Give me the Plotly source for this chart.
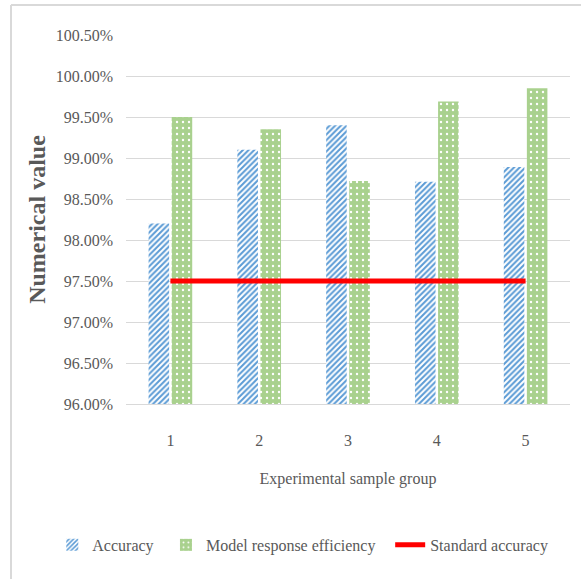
import plotly.graph_objects as go

# Experimental sample groups and measured values (in percent)
groups = ["1", "2", "3", "4", "5"]
accuracy = [98.20, 99.10, 99.40, 98.71, 98.89]
response_efficiency = [99.50, 99.35, 98.72, 99.69, 99.85]
standard_accuracy = [97.50, 97.50, 97.50, 97.50, 97.50]

FONT = "Liberation Serif, Times New Roman, serif"
TEXT = "#595959"
GRID = "#d9d9d9"

fig = go.Figure()

fig.add_trace(go.Bar(
    x=groups, y=accuracy, name="Accuracy", legend="legend",
    marker=dict(
        color="white",
        line=dict(width=0),
        pattern=dict(shape="/", fgcolor="#5B9BD5", bgcolor="white",
                     size=4, solidity=0.5, fillmode="replace"),
    ),
))

fig.add_trace(go.Bar(
    x=groups, y=response_efficiency, name="Model response efficiency",
    legend="legend2",
    marker=dict(
        color="#A9D18E",
        line=dict(width=0),
        pattern=dict(shape=".", fgcolor="white", bgcolor="#A9D18E",
                     size=6, solidity=0.12, fillmode="replace"),
    ),
))

fig.add_trace(go.Scatter(
    x=groups, y=standard_accuracy, name="Standard accuracy",
    legend="legend3",
    mode="lines", line=dict(color="#FF0000", width=5),
))

# light frame along the top and left edges of the chart
frame = dict(type="line", xref="paper", yref="paper",
             line=dict(color=GRID, width=2), layer="below")
fig.add_shape(x0=-0.259, x1=1.03, y0=1.081, y1=1.081, **frame)
fig.add_shape(x0=-0.259, x1=-0.259, y0=1.081, y1=-0.48, **frame)

legend_style = dict(
    orientation="h", yanchor="middle", y=-0.382, xanchor="left",
    font=dict(family=FONT, size=16, color=TEXT),
    bgcolor="rgba(0,0,0,0)", itemwidth=30,
)

fig.update_layout(
    width=581, height=579,
    margin=dict(l=126, r=11, t=35, b=175),
    paper_bgcolor="white", plot_bgcolor="white",
    font=dict(family=FONT, size=16, color=TEXT),
    barmode="group", bargap=0.48, bargroupgap=0.11,
    showlegend=True,
    legend=dict(x=-0.166, **legend_style),
    legend2=dict(x=0.090, **legend_style),
    legend3=dict(x=0.595, **legend_style),
    xaxis=dict(
        type="category",
        title=dict(text="Experimental sample group", standoff=24,
                   font=dict(family=FONT, size=16, color=TEXT)),
        showgrid=False, showline=True, linecolor=GRID, linewidth=1,
        ticks="", ticklabelstandoff=22,
        tickfont=dict(family=FONT, size=16, color=TEXT),
    ),
    yaxis=dict(
        range=[96, 100.5], dtick=0.5, tick0=96,
        tickformat=".2f", ticksuffix="%",
        showgrid=True, gridcolor=GRID, gridwidth=1,
        zeroline=False, showline=False, ticks="",
        ticklabelstandoff=12,
        tickfont=dict(family=FONT, size=16, color=TEXT),
        title=dict(text="<b>Numerical value</b>", standoff=3,
                   font=dict(family=FONT, size=24, color=TEXT)),
    ),
)

fig.write_html("out.html")
